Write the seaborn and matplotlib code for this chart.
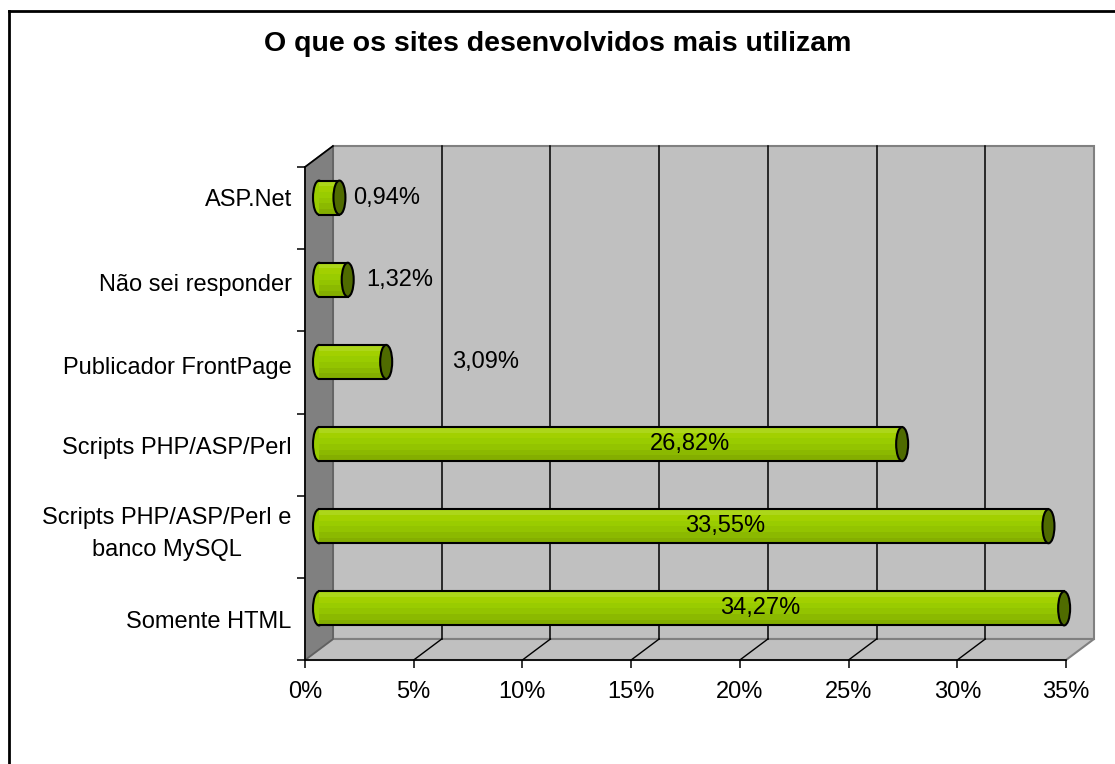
import numpy as np
import pandas as pd
import matplotlib
matplotlib.use("Agg")
import matplotlib.pyplot as plt
import matplotlib.transforms as mtransforms
from matplotlib.patches import Polygon, Rectangle, Ellipse
from matplotlib.lines import Line2D
import seaborn as sns

# ---------------------------------------------------------------- data
categories = ["ASP.Net", "Não sei responder", "Publicador FrontPage",
              "Scripts PHP/ASP/Perl", "Scripts PHP/ASP/Perl e\nbanco MySQL",
              "Somente HTML"]
values = [0.94, 1.32, 3.09, 26.82, 33.55, 34.27]
value_labels = ["0,94%", "1,32%", "3,09%", "26,82%", "33,55%", "34,27%"]
x_ticks = [0, 5, 10, 15, 20, 25, 30, 35]
x_ticklabels = ["0%", "5%", "10%", "15%", "20%", "25%", "30%", "35%"]
title = "O que os sites desenvolvidos mais utilizam"

# where excel put the data labels / category labels (layout only)
label_x = [3.13, 3.73, 7.68, 17.07, 18.68, 20.28]
label_rows = [-0.13, 0.91, 1.91, 2.89, 3.88, 5.01]

df = pd.DataFrame({"cat": categories, "val": values})

plt.rcParams["font.family"] = ["Liberation Sans", "DejaVu Sans"]

W, H = 1115, 764
fig = plt.figure(figsize=(W / 100, H / 100), dpi=100)
fig.patch.set_facecolor("white")

# front plane of the 3d box in pixels
x0, x1, ytop, ybot = 305, 1066, 167, 660
ax = fig.add_axes([x0 / W, 1 - ybot / H, (x1 - x0) / W, (ybot - ytop) / H])
ax.patch.set_visible(False)

px_pct = (x1 - x0) / 35.0
px_cat = (ybot - ytop) / 6.0
DX = 28 / px_pct          # depth offset in data units
DY = -21 / px_cat
mid_tr = ax.transData + mtransforms.Affine2D().translate(14, 10.5)

wall = "#c0c0c0"
side = "#808080"
edge = "#808080"

# walls
ax.add_patch(Rectangle((DX, -0.5 + DY), 35, 6, facecolor=wall, edgecolor=edge,
                       lw=1.5, zorder=0.5, clip_on=False))
ax.add_patch(Polygon([(0, 5.5), (DX, 5.5 + DY), (35 + DX, 5.5 + DY), (35, 5.5)],
                     facecolor=wall, edgecolor=edge, lw=1.5, zorder=0.5, clip_on=False))
ax.add_patch(Polygon([(0, -0.5), (DX, -0.5 + DY), (DX, 5.5 + DY), (0, 5.5)],
                     facecolor=side, edgecolor="#606060", lw=1.2, zorder=0.6, clip_on=False))
ax.plot([0, DX], [-0.5, -0.5 + DY], color="black", lw=1.2, zorder=0.7, clip_on=False)

# gridlines on back wall and floor
for t in x_ticks[1:-1]:
    ax.plot([t + DX, t + DX], [-0.5 + DY, 5.5 + DY], color="black", lw=1.1, zorder=0.7, clip_on=False)
for t in x_ticks[1:-1]:
    ax.plot([t, t + DX], [5.5, 5.5 + DY], color="black", lw=1.0, zorder=0.7, clip_on=False)

# ---------------------------------------------------------------- bars
bh = 34 / px_cat
n_before = len(ax.patches)
sns.barplot(data=df, x="val", y="cat", orient="h", color="#99cc00",
            width=bh, ax=ax, zorder=3, linewidth=0)
for p in ax.patches[n_before:]:
    p.set_transform(mid_tr)
    p.set_clip_on(False)

stripes = ["#acd61a", "#a2d000", "#99cc00", "#93c400", "#8bb900", "#84ae00"]
cap_w = 12 / px_pct
for i, v in enumerate(values):
    # left rounded end
    ax.add_patch(Ellipse((0.0, i), cap_w, bh, facecolor="#99cc00", edgecolor="black",
                         lw=1.5, transform=mid_tr, zorder=2.5, clip_on=False))
    # shading bands
    n = len(stripes)
    for k, c in enumerate(stripes):
        ax.barh(i - bh / 2 + (k + 0.5) * bh / n, v, left=0.0, height=bh / n,
                color=c, lw=0, transform=mid_tr, zorder=3.1, clip_on=False)
    ax.plot([0.0, v], [i - bh / 2, i - bh / 2], color="black", lw=1.5,
            transform=mid_tr, zorder=3.2, clip_on=False)
    ax.plot([0.0, v], [i + bh / 2, i + bh / 2], color="black", lw=1.5,
            transform=mid_tr, zorder=3.2, clip_on=False)
    # right cap
    ax.add_patch(Ellipse((v, i), cap_w, bh, facecolor="#4f6b00", edgecolor="black",
                         lw=1.5, transform=mid_tr, zorder=3.3, clip_on=False))
    ax.text(label_x[i], i, value_labels[i], ha="center", va="center",
            fontsize=17, color="black", transform=mid_tr, zorder=4)

# ---------------------------------------------------------------- axes
ax.set_xlim(0, 35)
ax.set_ylim(5.5, -0.5)
ax.set_xlabel("")
ax.set_ylabel("")
ax.set_xticks(x_ticks)
ax.set_xticklabels(x_ticklabels, fontsize=17)
ax.tick_params(axis="x", length=5.8, width=1.1, color="black", pad=9)

ax.set_yticks(np.arange(-0.5, 6, 1))
ax.set_yticklabels([""] * 7)
ax.set_yticks(label_rows, minor=True)
ax.set_yticklabels(categories, minor=True, fontsize=17)
ax.tick_params(axis="y", which="major", length=5.8, width=1.1, color="black")
ax.tick_params(axis="y", which="minor", length=0, pad=9.5)
for lab in ax.get_yticklabels(minor=True):
    lab.set_multialignment("center")
    lab.set_linespacing(1.55)

for s in ["top", "right"]:
    ax.spines[s].set_visible(False)
for s in ["left", "bottom"]:
    ax.spines[s].set_color("black")
    ax.spines[s].set_linewidth(1.2)
    ax.spines[s].set_zorder(1)

fig.text(0.5, 1 - 44 / H, title, ha="center", va="center",
         fontsize=20.5, fontweight="bold")

# chart area border (only top/left visible in the crop)
fig.add_artist(Line2D([9 / W, 9 / W], [0, 1 - 11 / H], color="black", lw=2))
fig.add_artist(Line2D([9 / W, 1], [1 - 11 / H, 1 - 11 / H], color="black", lw=2))

fig.savefig("out.png", dpi=100)
